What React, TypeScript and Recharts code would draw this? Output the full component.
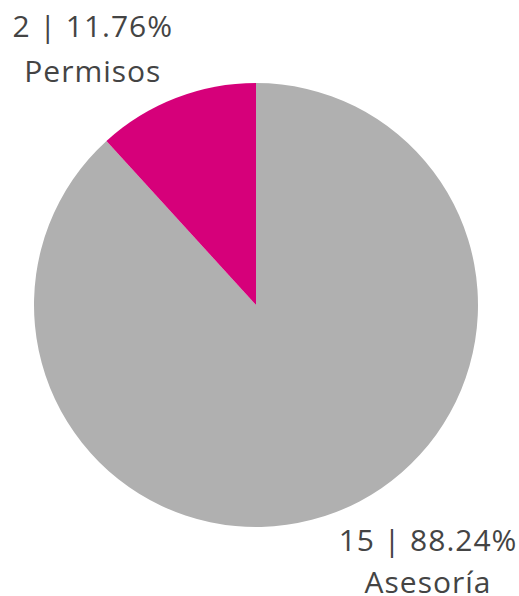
import React from "react";
import { PieChart, Pie, Cell } from "recharts";

const categories = ["Asesoría", "Permisos"];
const counts = [15, 2];
const colors = ["#B0B0B0", "#D6007A"];

const data = categories.map((name, i) => ({ name, value: counts[i] }));
const total = counts.reduce((a, b) => a + b, 0);

const FONT = "'Open Sans', sans-serif";
const FS = 30;

const renderLabel = (props: any) => {
  const { cx, cy, outerRadius, midAngle, index } = props;
  const d = data[index];
  const pct = ((d.value / total) * 100).toFixed(2);
  const a = ((midAngle % 360) + 360) % 360;
  const left = a > 90 && a < 270;
  // label placement derived from the pie geometry
  const x = left ? cx - outerRadius * 0.735 : cx + outerRadius * 0.775;
  const y1 = left ? cy - outerRadius * 1.207 : cy + outerRadius * 1.11;
  const gap = left ? 45 : 42;
  const common = {
    textAnchor: "middle" as const,
    fill: "#444444",
    fontFamily: FONT,
    fontSize: FS,
    letterSpacing: 1,
  };
  return (
    <g>
      <text x={x} y={y1} {...common}>
        {`${d.value} | ${pct}%`}
      </text>
      <text x={x} y={y1 + gap} {...common}>
        {d.name}
      </text>
    </g>
  );
};

export default function App() {
  return (
    <div style={{ position: "absolute", left: 0, top: 0, background: "#fff" }}>
      <PieChart width={519} height={596} margin={{ top: 0, right: 0, bottom: 0, left: 0 }}>
        <Pie
          data={data}
          dataKey="value"
          nameKey="name"
          cx={256}
          cy={305}
          outerRadius={222}
          startAngle={90}
          endAngle={-270}
          stroke="none"
          label={renderLabel}
          labelLine={false}
          isAnimationActive={false}
        >
          {data.map((d, i) => (
            <Cell key={d.name} fill={colors[i]} />
          ))}
        </Pie>
      </PieChart>
    </div>
  );
}
